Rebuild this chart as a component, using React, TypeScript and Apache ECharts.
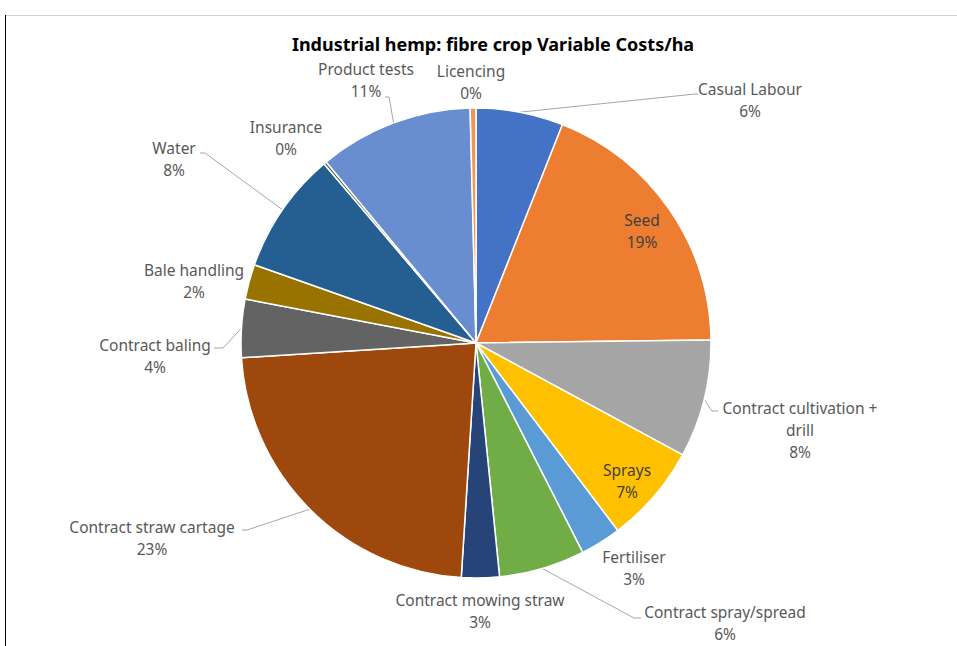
import React, { useEffect, useRef } from "react";
import * as echarts from "echarts";

const categories = [
  "Casual Labour",
  "Seed",
  "Contract cultivation + drill",
  "Sprays",
  "Fertiliser",
  "Contract spray/spread",
  "Contract mowing straw",
  "Contract straw cartage",
  "Contract baling",
  "Bale handling",
  "Water",
  "Insurance",
  "Product tests",
  "Licencing",
];

const costShare = [6.0, 18.8, 8.1, 6.8, 2.8, 5.9, 2.6, 23.0, 4.0, 2.4, 8.4, 0.2, 10.6, 0.4];

const colors = [
  "#4472C4", "#ED7D31", "#A5A5A5", "#FFC000", "#5B9BD5", "#70AD47", "#264478",
  "#9E480E", "#636363", "#997300", "#255E91", "#43682B", "#698ED0", "#F1975A",
];

const insideLabels = ["Seed", "Sprays"];
const noLeader = ["Seed", "Sprays", "Fertiliser", "Contract mowing straw", "Bale handling", "Insurance", "Licencing"];

// label layout (centre of each label block)
const labelCenters: number[][] = [
  [750, 100], [642, 231], [800, 430], [627, 481], [634, 568], [725, 623], [480, 611],
  [152, 538], [155, 356], [194, 281], [174, 159], [286, 138], [366, 80], [471, 82],
];
// leader-line bend and end points
const leaderBends: (number[][] | null)[] = [
  [[695, 94], [698, 94]], null, [[712, 411], [718, 411]], null, null, [[634, 618], [641, 618]], null,
  [[247, 530], [242, 530]], [[223, 348], [214, 348]], null, [[205, 153], [200, 153]], null,
  [[389, 97], [385, 97]], null,
];

const FONT = "'Noto Sans', 'Open Sans', sans-serif";

export default function App() {
  const ref = useRef<HTMLDivElement>(null);
  useEffect(() => {
    if (!ref.current) return;
    const chart = echarts.init(ref.current, undefined, { renderer: "svg" });
    const data = categories.map((name, i) => ({
      name,
      value: costShare[i],
      itemStyle: { color: colors[i] },
      label: insideLabels.includes(name)
        ? { position: "inside" as const, color: "#404040" }
        : { position: "outside" as const },
      labelLine: { show: !noLeader.includes(name) },
    }));
    chart.setOption({
      animation: false,
      backgroundColor: "#ffffff",
      title: {
        text: "Industrial hemp: fibre crop Variable Costs/ha",
        left: 488,
        top: 30,
        textAlign: "center",
        textStyle: { fontFamily: FONT, fontWeight: "bold", fontSize: 18, color: "#000000" },
      },
      graphic: [
        { type: "line", shape: { x1: 5, y1: 15.5, x2: 957, y2: 15.5 }, style: { stroke: "#d0d0d0", lineWidth: 1 } },
        { type: "line", shape: { x1: 5.5, y1: 15, x2: 5.5, y2: 646 }, style: { stroke: "#000000", lineWidth: 1 } },
      ],
      series: [
        {
          type: "pie",
          center: [476, 343],
          radius: 235,
          startAngle: 90,
          clockwise: true,
          avoidLabelOverlap: false,
          itemStyle: { borderColor: "#ffffff", borderWidth: 1.5 },
          label: {
            show: true,
            color: "#595959",
            fontFamily: FONT,
            fontSize: 15.5,
            lineHeight: 22,
            align: "center",
            formatter: (p: any) => `${p.name.replace("+ ", "+\n")}\n${Math.round(p.percent)}%`,
          },
          labelLine: { show: true, length: 10, length2: 10, lineStyle: { color: "#a6a6a6", width: 1 } },
          labelLayout: (params: any) => {
            const i = params.dataIndex;
            const c = labelCenters[i];
            const out: any = { x: c[0], y: c[1], align: "center", verticalAlign: "middle" };
            const b = leaderBends[i];
            if (b && params.labelLinePoints) {
              out.labelLinePoints = [params.labelLinePoints[0], b[0], b[1]];
            }
            return out;
          },
          emphasis: { disabled: true },
          data,
        },
      ],
    });
    return () => chart.dispose();
  }, []);
  return (
    <div
      ref={ref}
      style={{ position: "absolute", left: 0, top: 0, width: 957, height: 646 }}
    />
  );
}
